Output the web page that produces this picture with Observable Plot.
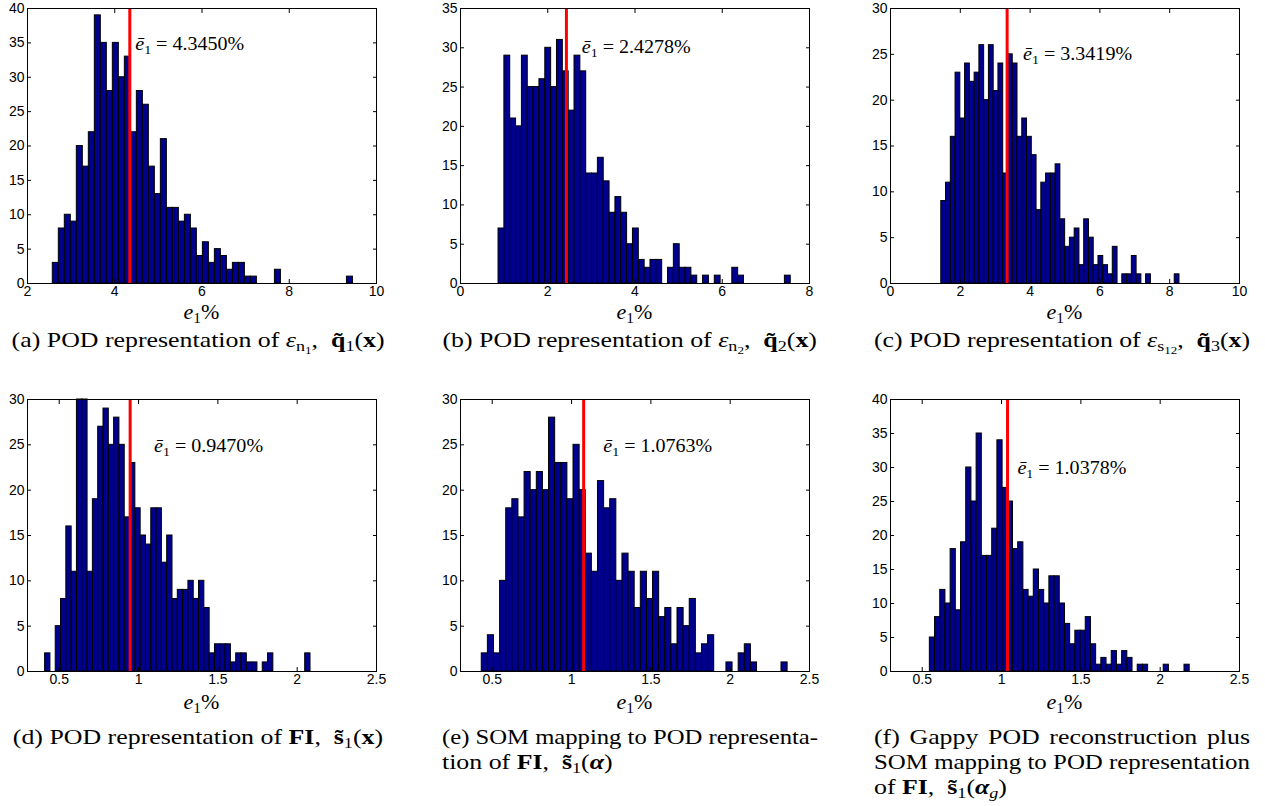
<!DOCTYPE html>
<html>
<head>
<meta charset="utf-8">
<script src="https://cdn.jsdelivr.net/npm/d3@7"></script>
<script src="https://cdn.jsdelivr.net/npm/@observablehq/plot@0.6"></script>
<style>
  html, body { margin: 0; padding: 0; background: #ffffff; }
  #fig { position: relative; width: 1265px; height: 806px; overflow: hidden; background: #ffffff;
         font-family: "Liberation Serif", "Times New Roman", serif; color: #000; }
  .panel { position: absolute; }
  .panel svg { max-width: none !important; display: block; }
  .xlab { position: absolute; width: 120px; text-align: center; font-size: 22px; line-height: 24px; }
  .cap { position: absolute; width: 376px; font-size: 21.5px; line-height: 25px; }
  .cap .ln { white-space: nowrap; height: 25px; }
  .cap .ln > span { display: inline-block; white-space: nowrap; }
  .cap .ctr { text-align: center; }
  .cap .ctr > span { transform-origin: 50% 50%; }
  .cap .lft > span, .cap .just > span { transform-origin: 0 50%; }
  .sb { font-size: 70%; vertical-align: -0.28em; line-height: 0; }
  .sb2 { font-size: 72%; vertical-align: -0.25em; line-height: 0; }
  .bf { font-weight: bold; }
  #probe { position: absolute; visibility: hidden; white-space: nowrap; font-size: 21.5px;
           font-family: "Liberation Serif", "Times New Roman", serif; }
</style>
</head>
<body>
<div id="fig"><span id="probe"></span></div>
<script>
// ---------------- DATA ----------------
// Histogram counts, 50 equal bins between the sample minimum and maximum
const countsA = [3,8,10,9,20,17,22,39,35,28,35,30,33,22,28,26,17,13,21,11,11,9,10,8,4,6,3,5,4,2,3,3,1,1,0,0,0,2,0,0,0,0,0,0,0,0,0,0,0,1];
const countsB = [7,29,21,20,29,25,25,26,30,25,31,27,22,29,27,14,14,16,13,9,11,9,5,7,3,2,3,3,0,2,5,2,2,1,0,1,0,1,0,0,2,1,0,0,0,0,0,0,0,1];
const countsC = [9,11,16,23,18,24,22,23,26,20,26,21,24,12,25,24,16,18,16,14,8,11,12,12,13,7,4,5,6,2,7,5,2,3,2,1,4,0,1,1,3,1,0,1,0,0,0,0,0,1];
const countsD = [2,0,5,8,16,11,30,30,11,19,27,29,25,28,25,17,23,18,15,14,18,18,12,15,8,9,9,10,8,10,7,2,3,3,3,1,2,2,1,1,0,1,2,0,0,0,0,0,0,2];
const countsE = [2,4,2,10,18,19,17,22,20,22,20,28,23,23,19,25,20,13,11,21,18,19,10,13,11,7,11,8,11,6,7,3,7,5,8,2,3,4,0,0,1,0,2,3,1,0,0,0,0,1];
const countsF = [5,8,12,10,18,9,19,30,25,35,17,17,21,34,27,25,18,19,12,11,15,12,10,14,14,10,7,4,6,6,8,4,1,2,1,3,1,3,2,0,1,1,0,0,0,1,0,0,0,1];

// sample range [min, max] of e1 (%) for each panel
const rangeA = [2.58, 9.46];
const rangeB = [0.872, 7.57];
const rangeC = [1.455, 8.28];
const rangeD = [0.411, 2.084];
const rangeE = [0.434, 2.362];
const rangeF = [0.548, 2.186];

// mean error e1-bar (%)
const meanValues = [4.3450, 2.4278, 3.3419, 0.9470, 1.0763, 1.0378];
const meanLabels = ["4.3450%", "2.4278%", "3.3419%", "0.9470%", "1.0763%", "1.0378%"];

// axis limits and tick labels
const xDomains = [[2, 10], [0, 8], [0, 10], [0.3, 2.5], [0.3, 2.5], [0.3, 2.5]];
const xTicksA = [2, 4, 6, 8, 10];
const xTicksB = [0, 2, 4, 6, 8];
const xTicksC = [0, 2, 4, 6, 8, 10];
const xTicksDEF = [0.5, 1, 1.5, 2, 2.5];
const yMaxes = [40, 35, 30, 30, 30, 40];
const yTicks40 = [0, 5, 10, 15, 20, 25, 30, 35, 40];
const yTicks35 = [0, 5, 10, 15, 20, 25, 30, 35];
const yTicks30 = [0, 5, 10, 15, 20, 25, 30];

// captions (sub-figure labels), one entry per printed line
const captions = [
  ['(a) POD representation of <i>ε</i><span class="sb">n<span class="sb2">1</span></span>,&nbsp; <span class="bf">q̃</span><span class="sb">1</span>(<span class="bf">x</span>)'],
  ['(b) POD representation of <i>ε</i><span class="sb">n<span class="sb2">2</span></span>,&nbsp; <span class="bf">q̃</span><span class="sb">2</span>(<span class="bf">x</span>)'],
  ['(c) POD representation of <i>ε</i><span class="sb">s<span class="sb2">12</span></span>,&nbsp; <span class="bf">q̃</span><span class="sb">3</span>(<span class="bf">x</span>)'],
  ['(d) POD representation of <span class="bf">FI</span>,&nbsp; <span class="bf">s̃</span><span class="sb">1</span>(<span class="bf">x</span>)'],
  ['(e) SOM mapping to POD representa-', 'tion of <span class="bf">FI</span>,&nbsp; <span class="bf">s̃</span><span class="sb">1</span>(<span class="bf"><i>α</i></span>)'],
  ['(f) Gappy POD reconstruction plus', 'SOM mapping to POD representation', 'of <span class="bf">FI</span>,&nbsp; <span class="bf">s̃</span><span class="sb">1</span>(<span class="bf"><i>α</i></span><span class="sb"><i>g</i></span>)']
];

// ---------------- LAYOUT ----------------
const FW = 349;                       // frame width
const ML = 40, MR = 12, MT = 10, MB = 24;
const frameLefts = [27, 460, 890];
const rowTop = [8, 399];
const rowFrameH = [275, 272];
const xlabCenterY = [312, 702];
const capTop = [328, 725];
const capLefts = [10, 442, 874];
const capW = 376;
const capRefWidth = 373;              // printed width of caption (a) in the reference
const annotRefWidth = 109;            // printed width of the mean annotation
const annotPos = [[4.47, 34.8], [2.78, 30.05], [3.80, 25.0], [1.098, 24.8], [1.20, 24.8], [1.10, 29.9]];

const counts = [countsA, countsB, countsC, countsD, countsE, countsF];
const ranges = [rangeA, rangeB, rangeC, rangeD, rangeE, rangeF];
const xTicks = [xTicksA, xTicksB, xTicksC, xTicksDEF, xTicksDEF, xTicksDEF];
const yTicks = [yTicks40, yTicks35, yTicks30, yTicks30, yTicks30, yTicks40];
const captionAlign = [["ctr"], ["ctr"], ["ctr"], ["ctr"], ["just", "lft"], ["just", "just", "lft"]];

const fig = document.getElementById("fig");
const probe = document.getElementById("probe");
const NS = "http://www.w3.org/2000/svg";

function measure(html, wordSpacing) {
  probe.style.wordSpacing = (wordSpacing || 0) + "px";
  probe.innerHTML = html;
  return probe.getBoundingClientRect().width;
}
function addTspan(parent, txt, attrs) {
  const s = document.createElementNS(NS, "tspan");
  for (const k in attrs) s.setAttribute(k, attrs[k]);
  s.textContent = txt;
  parent.appendChild(s);
  return s;
}

// horizontal stretch that makes the serif font as wide as the reference typeface
const capScale = capRefWidth / measure(captions[0][0]);

for (let i = 0; i < 6; i++) {
  const row = Math.floor(i / 3), col = i % 3;
  const fh = rowFrameH[row];
  const [lo, hi] = ranges[i];
  const n = counts[i].length;
  const bw = (hi - lo) / n;
  const bins = counts[i].map((c, k) => ({x1: lo + k * bw, x2: lo + (k + 1) * bw, n: c})).filter(d => d.n > 0);

  const svg = Plot.plot({
    width: FW + ML + MR,
    height: fh + MT + MB,
    marginLeft: ML, marginRight: MR, marginTop: MT, marginBottom: MB,
    style: {fontFamily: "'Liberation Sans', Arial, Helvetica, sans-serif", fontSize: "14px", color: "black", background: "transparent", overflow: "visible"},
    x: {domain: xDomains[i], label: null},
    y: {domain: [0, yMaxes[i]], label: null},
    marks: [
      Plot.rect(bins, {x1: "x1", x2: "x2", y1: 0, y2: "n", fill: "#00008F", stroke: "#000000", strokeWidth: 1}),
      Plot.ruleX([meanValues[i]], {stroke: "#FF0000", strokeWidth: 3}),
      Plot.frame({stroke: "#000000", strokeWidth: 1}),
      Plot.axisX(xTicks[i], {anchor: "bottom", tickSize: -4, tickPadding: 7, label: null, tickFormat: d => String(d)}),
      Plot.axisX(xTicks[i], {anchor: "top", tickSize: -4, label: null, tickFormat: () => ""}),
      Plot.axisY(yTicks[i], {anchor: "left", tickSize: -4, tickPadding: 7, label: null, tickFormat: d => String(d)}),
      Plot.axisY(yTicks[i], {anchor: "right", tickSize: -4, label: null, tickFormat: () => ""}),
      Plot.text([{x: annotPos[i][0], y: annotPos[i][1], t: meanLabels[i]}],
        {x: "x", y: "y", text: "t", textAnchor: "start", fontFamily: "'Liberation Serif', 'Times New Roman', serif", fontSize: 18, fill: "#000"})
    ]
  });

  const wrap = document.createElement("div");
  wrap.className = "panel";
  wrap.style.left = (frameLefts[col] - ML) + "px";
  wrap.style.top = (rowTop[row] - MT) + "px";
  wrap.style.width = (FW + ML + MR) + "px";
  wrap.appendChild(svg);
  fig.appendChild(wrap);

  // typeset the annotation as  ē₁ = value, stretched to the reference width
  const t = Array.from(svg.querySelectorAll("text")).find(el => el.textContent === meanLabels[i]);
  if (t) {
    const val = t.textContent;
    t.textContent = "";
    addTspan(t, "ē", {"font-style": "italic"});
    addTspan(t, "1", {"font-size": "12.5", "dy": "4"});
    addTspan(t, "\u2005=\u2005" + val, {"dy": "-4"});
    t.setAttribute("textLength", annotRefWidth);
    t.setAttribute("lengthAdjust", "spacingAndGlyphs");
  }

  // x-axis title e1%
  const xl = document.createElement("div");
  xl.className = "xlab";
  xl.style.left = (frameLefts[col] + FW / 2 - 60) + "px";
  xl.style.top = (xlabCenterY[row] - 12) + "px";
  xl.innerHTML = '<i>e</i><span class="sb">1</span>%';
  fig.appendChild(xl);

  // caption
  const cap = document.createElement("div");
  cap.className = "cap";
  cap.style.left = capLefts[col] + "px";
  cap.style.top = capTop[row] + "px";
  captions[i].forEach((line, j) => {
    const align = captionAlign[i][j];
    const d = document.createElement("div");
    d.className = "ln " + align;
    const s = document.createElement("span");
    s.innerHTML = line;
    const w = measure(line);
    let k = capScale;
    if (align === "just") {
      const spaces = (probe.textContent.match(/ /g) || []).length;
      const target = capW / k;
      let ws = spaces ? (target - w) / spaces : 0;
      if (ws < 0) { k = capW / w; ws = 0; }
      s.style.wordSpacing = ws.toFixed(2) + "px";
    } else if (w * k > capW) {
      k = capW / w;
    }
    s.style.transform = "scaleX(" + k.toFixed(4) + ")";
    d.appendChild(s);
    cap.appendChild(d);
  });
  fig.appendChild(cap);
}
</script>
</body>
</html>
